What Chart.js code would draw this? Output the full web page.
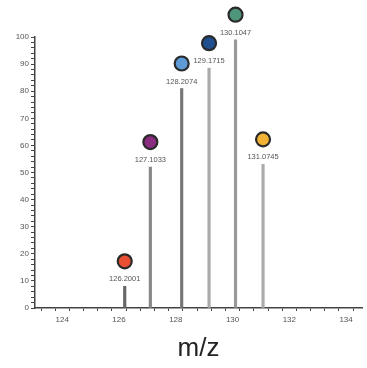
<!DOCTYPE html>
<html>
<head>
<meta charset="utf-8">
<script src="https://cdn.jsdelivr.net/npm/chart.js@4/dist/chart.umd.min.js"></script>
<style>
  html, body { margin: 0; padding: 0; background: #fff; }
  #wrap { width: 367px; height: 368px; }
</style>
</head>
<body>
<div id="wrap"><canvas id="cv1" width="367" height="368"></canvas></div>
<script>
// peak data
const mzValues = [126.2001, 127.1033, 128.2074, 129.1715, 130.1047, 131.0745];
const intensities = [8, 52, 81, 88.5, 99, 53];
const peakLabels = ['126.2001', '127.1033', '128.2074', '129.1715', '130.1047', '131.0745'];
const dotColors = ['#e94f32', '#8a2c80', '#5d9ad6', '#1f4f8e', '#4d967a', '#f1b236'];
const lineColors = ['#666', '#888', '#777', '#aaa', '#999', '#aaa'];
const xTickLabels = [124, 126, 128, 130, 132, 134];

const ctx = document.getElementById('cv1').getContext('2d');

// circle + label above each stick
const peakMarks = {
  id: 'peakMarks',
  afterDatasetsDraw(chart) {
    const c = chart.ctx;
    const meta = chart.getDatasetMeta(0);
    meta.data.forEach((bar, i) => {
      const x = bar.x, y = bar.y;
      c.save();
      c.font = '7.5px "Liberation Sans", Arial, sans-serif';
      c.fillStyle = '#555';
      c.textAlign = 'center';
      c.textBaseline = 'middle';
      c.fillText(peakLabels[i], x, y - 7);
      c.beginPath();
      c.arc(x, y - 25, 7, 0, Math.PI * 2);
      c.fillStyle = dotColors[i];
      c.fill();
      c.lineWidth = 2.2;
      c.strokeStyle = '#2a2a2a';
      c.stroke();
      c.restore();
    });
  }
};

new Chart(ctx, {
  type: 'bar',
  data: {
    datasets: [{
      data: mzValues.map((m, i) => ({ x: m, y: intensities[i] })),
      backgroundColor: lineColors,
      barThickness: 2.5,
      borderWidth: 0
    }]
  },
  options: {
    responsive: false,
    animation: false,
    layout: { padding: { top: 37, right: 5, left: 0, bottom: 4 } },
    plugins: { legend: { display: false }, tooltip: { enabled: false } },
    scales: {
      x: {
        type: 'linear',
        min: 123.3,
        max: 134.3,
        border: { color: '#444', width: 1.5 },
        grid: { drawOnChartArea: false, drawTicks: true, tickLength: 3, tickColor: '#444' },
        // minor ticks every 0.5, labels on the even values only
        afterBuildTicks: (s) => {
          const t = [];
          for (let v = xTickLabels[0] - 0.5; v <= xTickLabels[xTickLabels.length - 1]; v += 0.5) t.push({ value: v });
          s.ticks = t;
        },
        ticks: {
          autoSkip: false,
          maxRotation: 0,
          padding: 4,
          color: '#555',
          font: { size: 8, family: 'Liberation Sans' },
          callback: (v) => (xTickLabels.includes(v) ? String(v) : '')
        },
        title: {
          display: true,
          text: 'm/z',
          color: '#222',
          font: { size: 26, family: 'Liberation Sans' },
          padding: { top: 18, bottom: 0 }
        },
        afterFit: (s) => { s.height = 56; }
      },
      y: {
        min: 0,
        max: 100,
        border: { color: '#444', width: 1.5 },
        grid: { drawOnChartArea: false, drawTicks: true, tickLength: 4, tickColor: '#444' },
        ticks: {
          stepSize: 2,
          autoSkip: false,
          padding: 2,
          color: '#555',
          font: { size: 8, family: 'Liberation Sans' },
          callback: (v) => (v % 10 === 0 ? String(v) : '')
        },
        afterFit: (s) => { s.width = 35; }
      }
    }
  },
  plugins: [peakMarks]
});
</script>
</body>
</html>
